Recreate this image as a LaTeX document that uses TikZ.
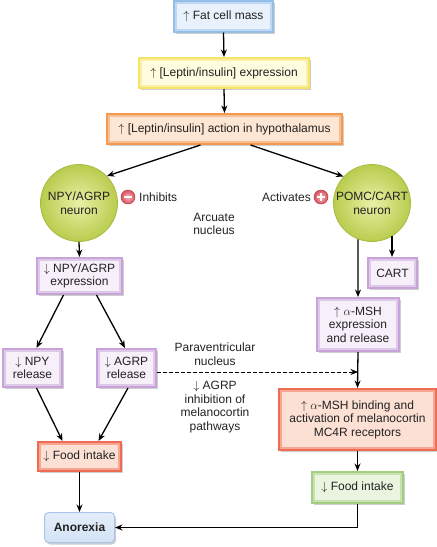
\documentclass[tikz,border=0pt]{standalone}
\usepackage{fontspec}
\setmainfont{Liberation Sans}
\usetikzlibrary{arrows.meta,calc,shadows}
\definecolor{bluebd}{HTML}{95BDEA}
\definecolor{bluefl}{HTML}{E8F1FC}
\definecolor{yelbd}{HTML}{F6E36A}
\definecolor{yelfl}{HTML}{FFFCDF}
\definecolor{orabd}{HTML}{F39A50}
\definecolor{orafl}{HTML}{FDE6D4}
\definecolor{purbd}{HTML}{C8A3D8}
\definecolor{purfl}{HTML}{F7EFFA}
\definecolor{redbd}{HTML}{EE6C53}
\definecolor{redfl}{HTML}{FDE0D4}
\definecolor{grnbd}{HTML}{A3CD80}
\definecolor{grnfl}{HTML}{EAF4DF}
\definecolor{anofl}{HTML}{D2E2F6}
\definecolor{anobd}{HTML}{A9C6EA}
\definecolor{ballin}{HTML}{E9F0A6}
\definecolor{ballout}{HTML}{B9CC4E}
\definecolor{ballbd}{HTML}{A7BB3E}
\definecolor{sgnin}{HTML}{F7B8BE}
\definecolor{sgnout}{HTML}{D9505E}
\definecolor{txt}{HTML}{222222}
\begin{document}
\begin{tikzpicture}[x=1pt,y=-1pt,
  every node/.style={font=\fontsize{12}{13.5}\selectfont, text=txt, align=center},
  box/.style 2 args={line width=2pt, inner sep=1pt, draw=#1, fill=#2,
    path picture={\draw[line width=6pt, #1!50!#2]
      (path picture bounding box.south west) rectangle (path picture bounding box.north east);},
    drop shadow={shadow xshift=1.5pt,shadow yshift=-2pt,opacity=0.35,fill=black!55}},
  bluebox/.style={box={bluebd}{bluefl}},
  yelbox/.style={box={yelbd}{yelfl}},
  orabox/.style={box={orabd}{orafl}},
  purbox/.style={box={purbd}{purfl}},
  redbox/.style={box={redbd}{redfl}},
  grnbox/.style={box={grnbd}{grnfl}},
  anobox/.style={line width=1pt, inner sep=1pt, draw=anobd, rounded corners=4pt,
    top color=anofl!60!white, bottom color=anofl,
    drop shadow={shadow xshift=1.5pt,shadow yshift=-2pt,opacity=0.35,fill=black!55}},
  ball/.style={circle, minimum size=77pt, inner sep=0pt, draw=ballbd, line width=0.8pt,
    shading=radial, inner color=ballin, outer color=ballout},
  sgn/.style={circle, minimum size=14pt, inner sep=0pt, draw=sgnout!80!black, line width=0.5pt,
    shading=radial, inner color=sgnin, outer color=sgnout},
  lbl/.style={inner sep=0pt},
  arr/.style={-{Stealth[length=7.5pt,width=6pt]}, line width=1.3pt, black}
]
\useasboundingbox (0,0) rectangle (437,547);

% boxes
\node[bluebox, minimum width=99pt, minimum height=31pt] (fat) at (223.5,16) {$\uparrow$ Fat cell mass};
\node[yelbox, minimum width=170pt, minimum height=30pt] (lexp) at (224,73) {$\uparrow$ [Leptin/insulin] expression};
\node[orabox, minimum width=235pt, minimum height=30pt] (lact) at (224.5,129) {$\uparrow$ [Leptin/insulin] action in hypothalamus};

\node[ball] (npy) at (79,203) {NPY/AGRP\\neuron};
\node[ball] (pomc) at (372,203) {POMC/CART\\neuron};

\node[purbox, minimum width=85pt, minimum height=36pt] (nexpr) at (79.5,276) {$\downarrow$ NPY/AGRP\\expression};
\node[purbox, minimum width=49pt, minimum height=30pt] (cart) at (392.5,273) {CART};
\node[purbox, minimum width=82pt, minimum height=53pt] (amsh) at (358,324.5) {$\uparrow$ $\alpha$-MSH\\expression\\and release};

\node[purbox, minimum width=59pt, minimum height=38pt] (nrel) at (32.5,368) {$\downarrow$ NPY\\release};
\node[purbox, minimum width=59pt, minimum height=38pt] (arel) at (126.5,368) {$\downarrow$ AGRP\\release};

\node[redbox, minimum width=157pt, minimum height=61pt] (bind) at (357.5,419.5) {$\uparrow$ $\alpha$-MSH binding and\\activation of melanocortin\\MC4R receptors};
\node[redbox, minimum width=83pt, minimum height=29pt] (lfood) at (79.5,456.5) {$\downarrow$ Food intake};
\node[grnbox, minimum width=91pt, minimum height=31pt] (rfood) at (357.5,487.5) {$\downarrow$ Food intake};
\node[anobox, minimum width=70pt, minimum height=30pt] (ano) at (79.5,527.5) {\bfseries Anorexia};

% labels
\node[sgn] (minus) at (128,197) {};
\draw[white, line width=1.4pt] ($(minus.center)+(-4,0)$) -- ($(minus.center)+(4,0)$);
\node[lbl, anchor=west] (inh) at (139,197) {Inhibits};
\node[sgn] (plus) at (321,197) {};
\draw[white, line width=1.4pt] ($(plus.center)+(-4,0)$) -- ($(plus.center)+(4,0)$)
  ($(plus.center)+(0,-4)$) -- ($(plus.center)+(0,4)$);
\node[lbl, anchor=east] (act) at (311,197) {Activates};
\node[lbl] (arc) at (214,224) {Arcuate\\nucleus};
\node[lbl] (para) at (215,354) {Paraventricular\\nucleus};
\node[lbl] (inhib) at (215,407) {$\downarrow$ AGRP\\inhibition of\\melanocortin\\pathways};

% connectors
\draw[arr] (fat.south) -- (lexp.north);
\draw[arr] (lexp.south) -- (lact.north);
\draw[arr] ($(lact.south)+(-24,0)$) -- (npy.44);
\draw[arr] ($(lact.south)+(26,0)$) -- (pomc.137);
\draw[arr] (npy.south) -- (nexpr.north);
\draw[arr] (pomc.249) -- (amsh.north);
\draw[arr] (pomc.301) -- (pomc.301 |- cart.north);
\draw[arr] ($(nexpr.south)+(-16,0)$) -- ($(nrel.north)+(4,0)$);
\draw[arr] ($(nexpr.south)+(17,0)$) -- ($(arel.north)+(-1.5,0)$);
\draw[arr] ($(nrel.south)+(4,0)$) -- ($(lfood.north)+(-17,0)$);
\draw[arr] ($(arel.south)+(1.5,0)$) -- ($(lfood.north)+(19,0)$);
\draw[arr] (lfood.south) -- (ano.north);
\coordinate (dashend) at ($(arel.east)+(0,4)$);
\draw[arr, line width=1pt, dash pattern=on 3.5pt off 2.5pt] (dashend) -- (dashend -| amsh.south);
\draw[arr] (amsh.south) -- (bind.north);
\draw[arr] (bind.south) -- (rfood.north);
\draw[arr] (rfood.south) |- (ano.east);
\end{tikzpicture}
\end{document}
